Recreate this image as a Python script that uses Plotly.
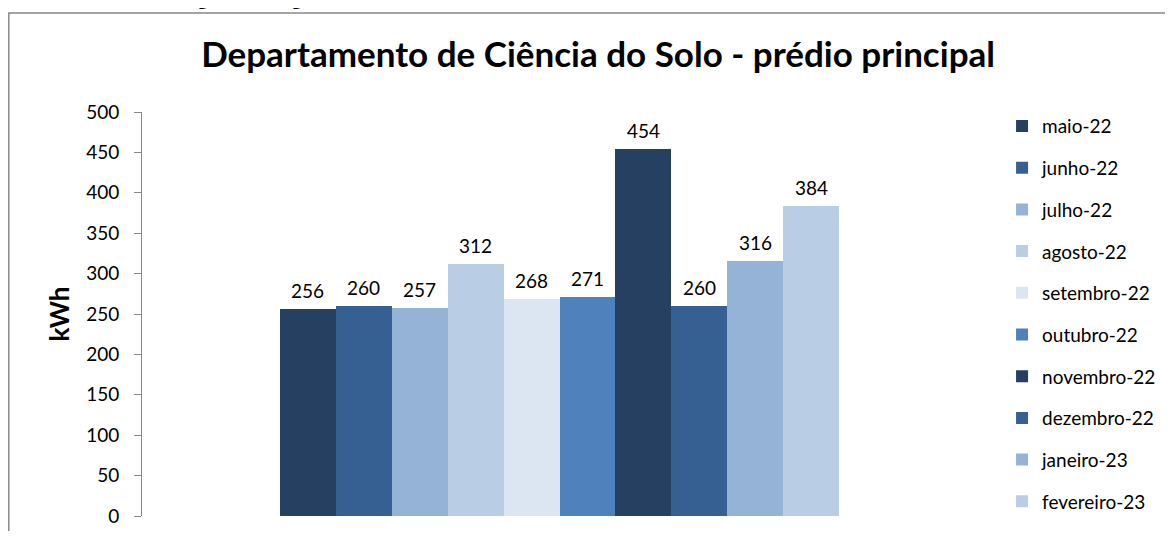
import plotly.graph_objects as go

months = ["maio-22", "junho-22", "julho-22", "agosto-22", "setembro-22",
          "outubro-22", "novembro-22", "dezembro-22", "janeiro-23", "fevereiro-23"]
values = [256, 260, 257, 312, 268, 271, 454, 260, 316, 384]
colors = ["#254061", "#366092", "#95B3D7", "#B9CDE5", "#DCE6F2",
          "#4F81BD", "#254061", "#366092", "#95B3D7", "#B9CDE5"]
y_ticks = [0, 50, 100, 150, 200, 250, 300, 350, 400, 450, 500]

FONT = "Lato, 'Open Sans', sans-serif"

fig = go.Figure()
for i, (m, v, c) in enumerate(zip(months, values, colors)):
    fig.add_trace(go.Bar(
        x=[m], y=[v], name=m, marker=dict(color=c, line=dict(width=0)),
        legendgroup=f"g{i}", hoverinfo="name+y",
    ))
    fig.add_annotation(x=m, y=v, xref="x", yref="y", text=str(v),
                       showarrow=False, yanchor="bottom", yshift=5,
                       font=dict(size=19, family=FONT, color="#000000"))

# page has an 8px body margin; figure sized/positioned to compensate
fig.update_layout(
    width=1157, height=523,
    margin=dict(l=134, r=188, t=104, b=15, autoexpand=False),
    paper_bgcolor="white", plot_bgcolor="white",
    barmode="overlay", bargap=0,
    font=dict(family=FONT, color="#000000"),
    title=dict(text="<b>Departamento de Ciência do Solo - prédio principal</b>",
               x=0.51, xanchor="center", y=0.91, yanchor="middle",
               font=dict(size=35, family=FONT, color="#000000")),
    showlegend=True,
    legend=dict(x=1.030, xanchor="left", y=1.012, yanchor="top",
                font=dict(size=19, family=FONT, color="#000000"),
                traceorder="grouped", tracegroupgap=14,
                itemwidth=30, bgcolor="rgba(0,0,0,0)", maxheight=1.0),
    xaxis=dict(type="category", categoryorder="array", categoryarray=months,
               range=[-2.969, 11.969], showticklabels=False, showline=False,
               ticks="", showgrid=False, zeroline=False),
    yaxis=dict(range=[0, 500], tickvals=y_ticks, showgrid=False, automargin=False,
               showline=True, linecolor="#888888", linewidth=1, zeroline=False,
               ticks="outside", ticklen=7, tickcolor="#888888",
               tickfont=dict(size=19, family=FONT, color="#000000"),
               ticklabelstandoff=11,
               title=dict(text="<b>kWh</b>", standoff=9,
                          font=dict(size=26, family=FONT, color="#000000"))),
)

# outer chart frame
fig.add_shape(type="rect", xref="paper", yref="paper",
              x0=-0.1595, x1=1.4, y0=-0.2, y1=1.245,
              line=dict(color="#888888", width=1.5), fillcolor="rgba(0,0,0,0)",
              layer="below")

# caption above the chart, cut off by the page edge (as in the reference)
fig.add_annotation(text="<b>Consumo médio de energia elétrica gerada da UFV do DCS, em kWh/mês.</b>",
                   xref="paper", yref="paper", x=-0.17, xanchor="left",
                   y=1.25, yanchor="bottom", showarrow=False,
                   font=dict(size=19, family="'Liberation Serif', serif", color="#000000"))

fig.write_html("out.html")
